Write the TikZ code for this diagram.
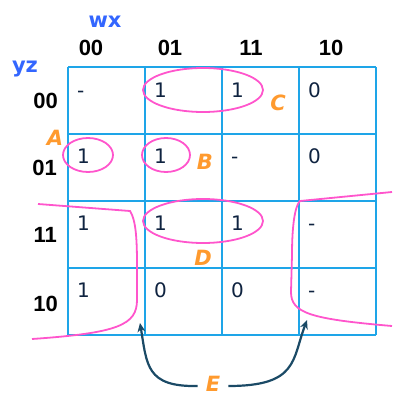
\documentclass[tikz,border=0pt]{standalone}
\usepackage{fontspec}
\setmainfont{Liberation Sans}
\newfontfamily\cellfont{DejaVu Sans}
\newfontfamily\tagfont{DejaVu Sans}
\usetikzlibrary{arrows.meta}
\definecolor{gridblue}{HTML}{1EA5E8}
\definecolor{pinkline}{HTML}{FF55CC}
\definecolor{navytext}{HTML}{0F2340}
\definecolor{tagorange}{HTML}{FF9A2E}
\definecolor{varblue}{HTML}{3366FF}
\definecolor{arrowteal}{HTML}{1B4A66}
\tikzset{
  gridline/.style={draw=gridblue, line width=1.8pt},
  loopline/.style={draw=pinkline, line width=1.8pt},
  entry/.style={anchor=base west, inner sep=0pt, text=navytext, font=\cellfont\fontsize{20}{24}\selectfont},
  hdr/.style={anchor=base, inner sep=0pt, text=black, font=\bfseries\fontsize{22}{26}\selectfont},
  rowhdr/.style={anchor=base east, inner sep=0pt, text=black, font=\bfseries\fontsize{22}{26}\selectfont},
  varname/.style={anchor=base, inner sep=0pt, text=varblue, font=\cellfont\bfseries\fontsize{21}{25}\selectfont},
  tag/.style={anchor=center, inner sep=0pt, text=tagorange, font=\tagfont\bfseries\itshape\fontsize{21}{25}\selectfont},
  pointer/.style={draw=arrowteal, line width=2.2pt, -{Stealth[length=9pt,width=8pt]}}
}
\begin{document}
\begin{tikzpicture}[x=1pt,y=-1pt]
\useasboundingbox (0,0) rectangle (392,396);
% grid
\foreach \xx in {68,145,222,299,376} \draw[gridline] (\xx,67) -- (\xx,335);
\foreach \yy in {67,134,201,268,335} \draw[gridline] (68,\yy) -- (376,\yy);
% headers
\node[varname] (wx) at (105,28) {wx};
\node[varname] (yz) at (25,72) {yz};
\node[hdr] (c00) at (91,56) {00};
\node[hdr] (c01) at (170,56) {01};
\node[hdr] (c11) at (251,56) {11};
\node[hdr] (c10) at (331,56) {10};
\node[rowhdr] (r00) at (58,108) {00};
\node[rowhdr] (r01) at (57,175) {01};
\node[rowhdr] (r11) at (57,242) {11};
\node[rowhdr] (r10) at (58,311) {10};
% entries
\node[entry] (e00a) at (77,97) {-};
\node[entry] (e00b) at (154,97) {1};
\node[entry] (e00c) at (231,97) {1};
\node[entry] (e00d) at (308,97) {0};
\node[entry] (e01a) at (77,163) {1};
\node[entry] (e01b) at (154,163) {1};
\node[entry] (e01c) at (231,163) {-};
\node[entry] (e01d) at (308,163) {0};
\node[entry] (e11a) at (77,230) {1};
\node[entry] (e11b) at (154,230) {1};
\node[entry] (e11c) at (231,230) {1};
\node[entry] (e11d) at (308,230) {-};
\node[entry] (e10a) at (77,297) {1};
\node[entry] (e10b) at (154,297) {0};
\node[entry] (e10c) at (231,297) {0};
\node[entry] (e10d) at (308,297) {-};
% loops
\draw[loopline] (203,90) ellipse [x radius=60, y radius=22];
\draw[loopline] (88,155) ellipse [x radius=25, y radius=17];
\draw[loopline] (166,155) ellipse [x radius=24, y radius=17];
\draw[loopline] (203,221) ellipse [x radius=60, y radius=22];
\draw[loopline] (38,204) -- (130,211) .. controls (136,220) and (137,240) .. (137,265) -- (137,300) .. controls (137,325) and (118,333) .. (32,339);
\draw[loopline] (392,192) -- (300,201) .. controls (295,206) and (292,225) .. (292,255) -- (291,292) .. controls (291,313) and (310,319) .. (392,326);
% tags
\node[tag] (tA) at (55,138) {A};
\node[tag] (tB) at (205,162) {B};
\node[tag] (tC) at (278,103) {C};
\node[tag] (tD) at (203,258) {D};
\node[tag] (tE) at (213,384) {E};
% arrows
\coordinate (tipL) at (140,323);
\coordinate (tipR) at (307,320);
\draw[pointer] ([xshift=-8pt,yshift=-2pt]tE.west) .. controls (146,387) and (147,365) .. (tipL);
\draw[pointer] ([xshift=8pt,yshift=-2pt]tE.east) .. controls (298,386) and (292,360) .. (tipR);
\end{tikzpicture}
\end{document}
